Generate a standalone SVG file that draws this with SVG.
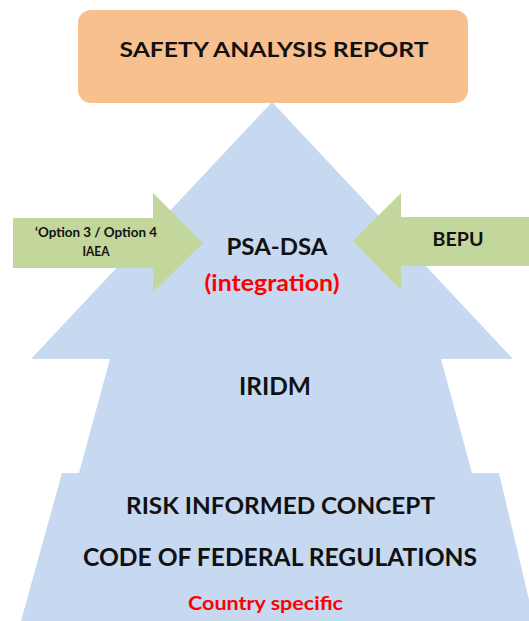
<svg xmlns="http://www.w3.org/2000/svg" width="529" height="621" viewBox="0 0 529 621">
  <style>
    .t { font-family: Lato, "Open Sans", "Liberation Sans", sans-serif; font-weight: bold; text-anchor: middle; fill: #111111; }
    .red { fill: #FF0000; }
    .blue { fill: #C6D9F1; }
    .green { fill: #C3D69B; }
    .orange { fill: #F8C08F; }
  </style>
  <rect width="529" height="621" fill="#FFFFFF"/>
  <g id="pyramid">
    <polygon class="blue" points="272,102 31,359 110,359 79,473 62,473 21,621 534,621 499,473 472,473 441,359 513,359"/>
    <text class="t" x="275" y="395" font-size="24" textLength="72" lengthAdjust="spacingAndGlyphs">IRIDM</text>
    <text class="t" x="280.5" y="514" font-size="23" textLength="309" lengthAdjust="spacingAndGlyphs">RISK INFORMED CONCEPT</text>
    <text class="t" x="280" y="566" font-size="24" textLength="394" lengthAdjust="spacingAndGlyphs">CODE OF FEDERAL REGULATIONS</text>
    <text class="t red" x="265.5" y="610" font-size="18" textLength="155" lengthAdjust="spacingAndGlyphs">Country specific</text>
  </g>
  <g id="sar">
    <rect class="orange" x="78" y="10" width="390" height="93" rx="13" ry="13"/>
    <text class="t" x="274" y="57" font-size="21.5" textLength="309" lengthAdjust="spacingAndGlyphs">SAFETY ANALYSIS REPORT</text>
  </g>
  <g id="psa-dsa">
    <text class="t" x="277" y="255" font-size="23.5" textLength="101" lengthAdjust="spacingAndGlyphs">PSA-DSA</text>
    <text class="t red" x="272" y="291" font-size="22" textLength="135" lengthAdjust="spacingAndGlyphs">(integration)</text>
  </g>
  <g id="connectors">
    <g id="option-arrow">
      <polygon class="green" points="13,218 153,218 153,193 203,243 153,292 153,268 13,268"/>
      <text class="t" x="96" y="237" font-size="12.5" textLength="122" lengthAdjust="spacingAndGlyphs">‘Option 3 / Option 4</text>
      <text class="t" x="96" y="256" font-size="12.5" textLength="27" lengthAdjust="spacingAndGlyphs">IAEA</text>
    </g>
    <g id="bepu-arrow">
      <polygon class="green" points="529,217 401,217 401,193 353,241 401,290 401,266 529,266"/>
      <text class="t" x="458" y="246" font-size="19.5" textLength="51" lengthAdjust="spacingAndGlyphs">BEPU</text>
    </g>
  </g>
</svg>
